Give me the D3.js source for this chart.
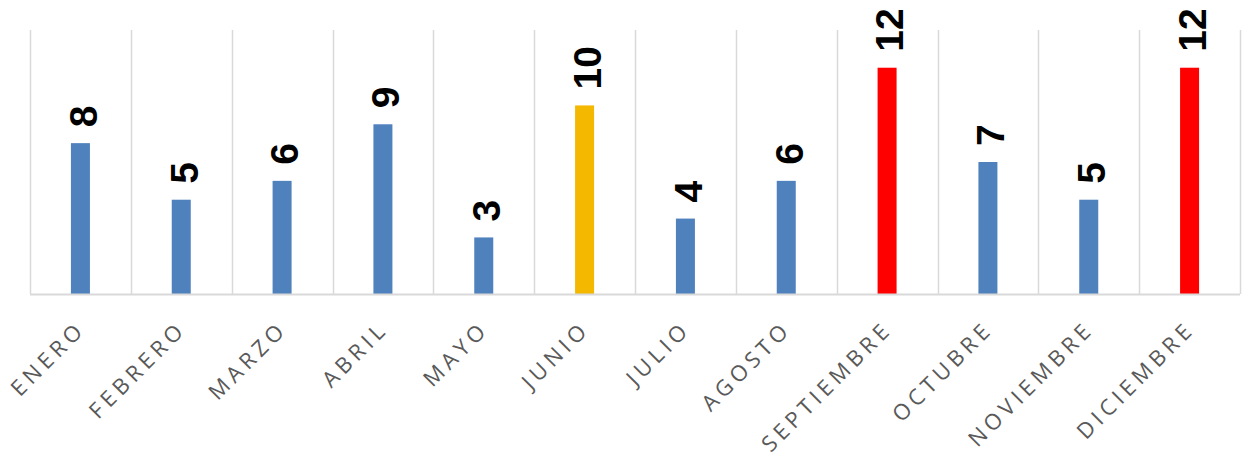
<!DOCTYPE html>
<html>
<head>
<meta charset="utf-8">
<script src="https://cdn.jsdelivr.net/npm/d3@7"></script>
<style>
  body { margin: 0; background: #fff; }
  .xlabel { font-family: "Open Sans", "Noto Sans", sans-serif; font-size: 22px; fill: #595959; letter-spacing: 4.6px; }
  .vlabel { font-family: "Liberation Sans Narrow", "Liberation Sans", sans-serif; font-size: 39px; font-weight: bold; fill: #000; }
</style>
</head>
<body>
<script>
// data
var months = ["ENERO", "FEBRERO", "MARZO", "ABRIL", "MAYO", "JUNIO", "JULIO",
  "AGOSTO", "SEPTIEMBRE", "OCTUBRE", "NOVIEMBRE", "DICIEMBRE"];
var values = [8, 5, 6, 9, 3, 10, 4, 6, 12, 7, 5, 12];
var barColors = ["#4f81bd", "#4f81bd", "#4f81bd", "#4f81bd", "#4f81bd", "#f5b800",
  "#4f81bd", "#4f81bd", "#ff0000", "#4f81bd", "#4f81bd", "#ff0000"];

var svg_Width = 1245;
var svg_Height = 460;
var margin = { top: 30, right: 5, bottom: 166, left: 30 };
var width = svg_Width - margin.left - margin.right;
var height = svg_Height - margin.top - margin.bottom;

var svg = d3.select("body")
  .append("svg")
  .attr("width", svg_Width)
  .attr("height", svg_Height);

var g = svg.append("g")
  .attr("transform", `translate(${margin.left}, ${margin.top})`);

// scales
var xScale = d3.scaleBand()
  .domain(months)
  .range([0, width]);

var yScale = d3.scaleLinear()
  .domain([0, 14])
  .range([height, 0]);

var barWidth = 19;

// vertical gridlines between categories
var gridX = months.map(d => xScale(d)).concat([width]);
g.selectAll(".grid")
  .data(gridX)
  .enter()
  .append("line")
  .attr("x1", d => Math.round(d) + 0.5)
  .attr("x2", d => Math.round(d) + 0.5)
  .attr("y1", 0)
  .attr("y2", height)
  .attr("stroke", "#d9d9d9")
  .attr("stroke-width", 1.5);

// bars
g.selectAll(".bar")
  .data(months)
  .enter()
  .append("rect")
  .attr("x", d => xScale(d) + xScale.bandwidth() / 2 - barWidth / 2)
  .attr("y", (d, i) => yScale(values[i]))
  .attr("width", barWidth)
  .attr("height", (d, i) => height - yScale(values[i]))
  .attr("fill", (d, i) => barColors[i]);

// baseline
g.append("line")
  .attr("x1", 0)
  .attr("x2", width)
  .attr("y1", height + 0.5)
  .attr("y2", height + 0.5)
  .attr("stroke", "#d9d9d9")
  .attr("stroke-width", 2);

// value labels (rotated)
g.selectAll(".vlabel")
  .data(months)
  .enter()
  .append("text")
  .attr("class", "vlabel")
  .attr("transform", (d, i) => `translate(${xScale(d) + xScale.bandwidth() / 2}, ${yScale(values[i]) - 16}) rotate(-90)`)
  .attr("dy", "0.42em")
  .attr("text-anchor", "start")
  .text((d, i) => values[i]);

// month labels
g.selectAll(".xlabel")
  .data(months)
  .enter()
  .append("text")
  .attr("class", "xlabel")
  .attr("transform", d => `translate(${xScale(d) + xScale.bandwidth() / 2 + 1}, ${height + 31}) rotate(-45)`)
  .attr("text-anchor", "end")
  .attr("dy", "0.35em")
  .text(d => d);
</script>
</body>
</html>
